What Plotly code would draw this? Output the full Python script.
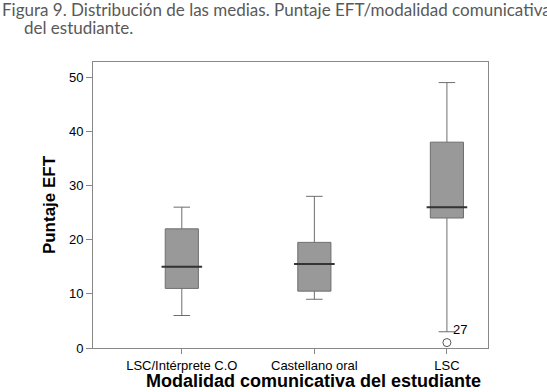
import plotly.graph_objects as go

categories = ["LSC/Intérprete C.O", "Castellano oral", "LSC"]
q1 = [11, 10.5, 24]
median = [15, 15.5, 26]
q3 = [22, 19.5, 38]
lower = [6, 9, 3]
upper = [26, 28, 49]
outlier_cat = ["LSC"]
outlier_val = [1]
outlier_label = ["27"]

fig = go.Figure()
fig.add_trace(go.Box(
    x=categories, q1=q1, median=median, q3=q3,
    lowerfence=lower, upperfence=upper,
    fillcolor="#999999", line=dict(color="#6e6e6e", width=1),
    width=0.25, whiskerwidth=0.5, boxpoints=False, showlegend=False,
    hoverinfo="skip",
))
# darker median lines
fig.add_trace(go.Scatter(
    x=categories, y=median, mode="markers",
    marker=dict(symbol="line-ew", size=29, line=dict(color="#333333", width=2)),
    showlegend=False, hoverinfo="skip",
))
# outlier
fig.add_trace(go.Scatter(
    x=outlier_cat, y=outlier_val, mode="markers",
    marker=dict(symbol="circle-open", size=8, color="#555555", line=dict(width=1)),
    showlegend=False, hoverinfo="skip",
))
for c, lw, lab in zip(outlier_cat, lower[2:], outlier_label):
    fig.add_annotation(x=c, y=lw, text=lab, showarrow=False, xshift=13, yshift=2,
                       font=dict(family="Liberation Sans, Arial", size=13, color="#000"))

fig.update_layout(
    width=547, height=392,
    margin=dict(l=93, r=59, t=62, b=44, autoexpand=False),
    paper_bgcolor="white", plot_bgcolor="white",
    font=dict(family="Liberation Sans, Arial", size=12, color="#000"),
    xaxis=dict(range=[-0.67, 2.31], showgrid=False, ticks="outside", ticklen=5,
               tickcolor="#888", linecolor="#888", mirror=True, showline=True,
               tickfont=dict(size=13), automargin=False),
    yaxis=dict(range=[0, 52.8], dtick=10, showgrid=False, ticks="outside", ticklen=6,
               tickcolor="#888", linecolor="#888", mirror=True, showline=True,
               zeroline=False, tickfont=dict(size=13), automargin=False,
               title=dict(text="<b>Puntaje EFT</b>", font=dict(size=17), standoff=8)),
)
fig.add_annotation(xref="paper", yref="paper", x=(313-93)/395, y=-(381-348)/286, yanchor="middle",
                   text="<b>Modalidad comunicativa del estudiante</b>", showarrow=False,
                   font=dict(size=18, color="#000"))
fig.add_annotation(xref="paper", yref="paper", x=-93/395, xanchor="left", y=1+(62-10)/286,
                   yanchor="middle", showarrow=False, align="left",
                   text="Figura 9. Distribución de las medias. Puntaje EFT/modalidad comunicativa",
                   font=dict(family="Lato, Open Sans", size=17, color="#595959"))
fig.add_annotation(xref="paper", yref="paper", x=(22-93)/395, xanchor="left", y=1+(62-27)/286,
                   yanchor="middle", showarrow=False, align="left",
                   text="del estudiante.",
                   font=dict(family="Lato, Open Sans", size=17, color="#595959"))
fig.write_html("out.html", config={"displayModeBar": False},
               post_script="document.body.style.margin='0';document.body.style.overflow='hidden';")
